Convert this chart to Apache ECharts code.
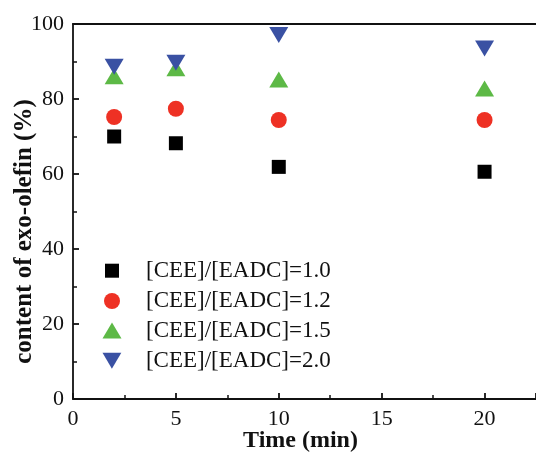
<!DOCTYPE html>
<html>
<head>
<meta charset="utf-8">
<script src="https://cdn.jsdelivr.net/npm/echarts@6/dist/echarts.min.js"></script>
<style>html,body{margin:0;padding:0;background:#fff}#c{width:536px;height:452px}</style>
</head>
<body>
<div id="c"></div>
<script>
var times = [2, 5, 10, 20];
var seriesNames = ['[CEE]/[EADC]=1.0', '[CEE]/[EADC]=1.2', '[CEE]/[EADC]=1.5', '[CEE]/[EADC]=2.0'];
var ratio10 = [70.0, 68.2, 61.9, 60.6];
var ratio12 = [75.2, 77.4, 74.4, 74.4];
var ratio15 = [86.1, 88.2, 85.2, 82.8];
var ratio20 = [88.6, 89.7, 97.1, 93.5];
var xTitle = 'Time (min)';
var yTitle = 'content of exo-olefin (%)';

var values = [ratio10, ratio12, ratio15, ratio20];
var colors = ['#000000', '#ee3124', '#5db946', '#3a51a3'];
var downTri = 'path://M0,0 L20,0 L10,17 Z';
var symbols = ['rect', 'circle', 'triangle', downTri];
var sizes = [[14, 14], [16, 16], [19, 16], [19, 16]];
var font = "'Liberation Serif', 'Times New Roman', serif";

function pairs(v) { return times.map(function (t, i) { return [t, v[i]]; }); }

var series = seriesNames.map(function (n, i) {
  return {
    name: n, type: 'scatter', data: pairs(values[i]),
    symbol: symbols[i], symbolSize: sizes[i],
    itemStyle: { color: colors[i], opacity: 1 },
    emphasis: { disabled: true }
  };
});

var rowCenters = [270.7, 301, 330.5, 360.7];
var legends = seriesNames.map(function (n, i) {
  var w = sizes[i][0], h = sizes[i][1];
  return {
    data: [{ name: n, icon: symbols[i] }],
    orient: 'vertical',
    left: 112 - w / 2, top: rowCenters[i] - 13,
    padding: 0,
    itemWidth: w, itemHeight: h,
    selectedMode: false,
    textStyle: { fontFamily: font, fontSize: 23, color: '#111', padding: [0, 0, 0, 146 - (112 + w / 2) - 5], lineHeight: 26 }
  };
});

var axisLineStyle = { color: '#111', width: 1.8 };
var option = {
  animation: false,
  backgroundColor: '#fff',
  legend: legends,
  grid: { left: 73, right: 0, top: 24, bottom: 53, containLabel: false, outerBoundsMode: 'none' },
  xAxis: [{
    type: 'value', min: 0, max: 22.5, interval: 5,
    name: xTitle, nameLocation: 'middle', nameGap: 30, nameMoveOverlap: false,
    nameTextStyle: { fontFamily: font, fontSize: 24, fontWeight: 'bold', color: '#111', padding: [0, 8, 0, 0] },
    axisLine: { show: true, lineStyle: axisLineStyle },
    axisTick: { show: true, inside: true, length: 6, lineStyle: axisLineStyle },
    minorTick: { show: true, splitNumber: 2, length: 4, lineStyle: { color: '#111', width: 1.5 } },
    axisLabel: { fontFamily: font, fontSize: 22, color: '#111', margin: 9, showMaxLabel: false },
    splitLine: { show: false }
  }, {
    type: 'value', min: 0, max: 22.5, position: 'top',
    axisLine: { show: true, lineStyle: axisLineStyle },
    axisTick: { show: false }, axisLabel: { show: false }, splitLine: { show: false }
  }],
  yAxis: {
    type: 'value', min: 0, max: 100, interval: 20,
    name: yTitle, nameLocation: 'middle', nameGap: 36, nameRotate: 90, nameMoveOverlap: false,
    nameTextStyle: { fontFamily: font, fontSize: 25, fontWeight: 'bold', color: '#111', padding: [0, 40, 0, 0] },
    axisLine: { show: true, lineStyle: axisLineStyle },
    axisTick: { show: true, inside: true, length: 6, lineStyle: axisLineStyle },
    minorTick: { show: true, splitNumber: 2, length: 4, lineStyle: { color: '#111', width: 1.5 } },
    axisLabel: { fontFamily: font, fontSize: 22, color: '#111', margin: 9 },
    splitLine: { show: false }
  },
  series: series
};
echarts.init(document.getElementById('c'), null, { renderer: 'canvas' }).setOption(option);
</script>
</body>
</html>
